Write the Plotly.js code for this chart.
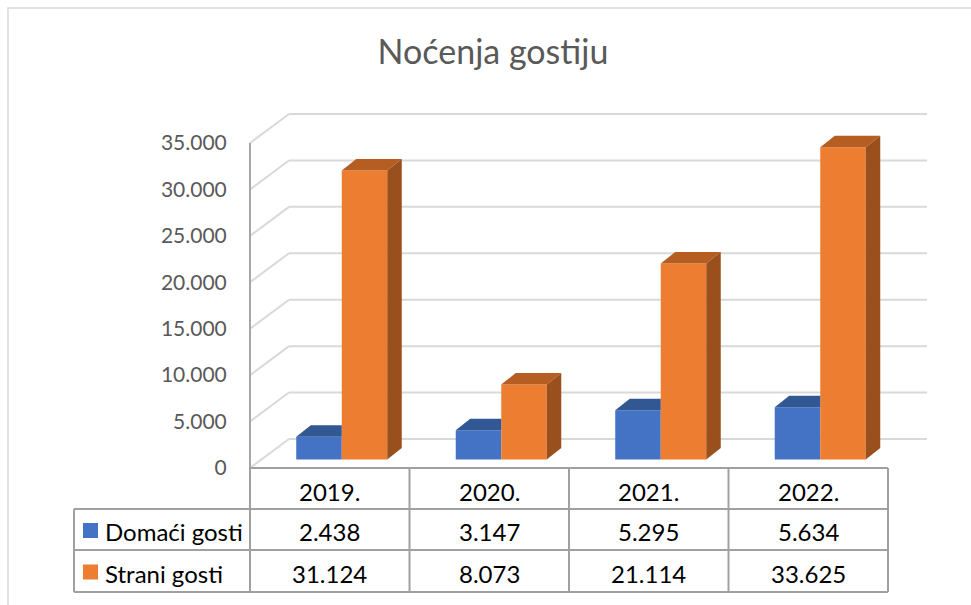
<!DOCTYPE html>
<html>
<head>
<meta charset="utf-8">
<script src="https://cdn.plot.ly/plotly-3.0.1.min.js"></script>
<style>html,body{margin:0;padding:0;background:#fff;}#chart{width:971px;height:605px;}</style>
</head>
<body>
<div id="chart"></div>
<script>
// ---- data ----
const categories = ['2019.', '2020.', '2021.', '2022.'];
const seriesNames = ['Domaći gosti', 'Strani gosti'];
const domaci = [2438, 3147, 5295, 5634];
const strani = [31124, 8073, 21114, 33625];
const tickValues = [0, 5000, 10000, 15000, 20000, 25000, 30000, 35000];
const chartTitle = 'Noćenja gostiju';

// ---- styling / geometry ----
const W = 971, H = 605;
const FX0 = 250, CAT_W = 159.5;      // front-left corner x, category width (px)
const FY0 = 468, PXU = 325 / 35000;  // front zero line y, px per unit
const WALL_DX = 39, WALL_DY = 29;    // depth of back wall (px)
const BAR_SX = 12, BAR_SY = 8.5;     // bar plane offset from front (px)
const BAR_W = 45.5;                  // bar width (px)
const BAR_DX = 14.5, BAR_DY = 11.5;  // bar depth (px)
const FONT = 'Lato, "Open Sans", sans-serif';
const colors = {
  blue: '#4472C4', blueTop: '#325894',
  orange: '#ED7D31', orangeTop: '#B65E22', orangeSide: '#9A501D'
};
const ux = p => p / CAT_W;
const uy = p => p / PXU;
const pxX = p => p / W;
const pxY = p => 1 - p / H;
const fmt = v => String(v).replace(/\B(?=(\d{3})+(?!\d))/g, '.');

const idx = categories.map((c, i) => i);
const sx = ux(BAR_SX), sy = uy(BAR_SY), bw = ux(BAR_W), ddx = ux(BAR_DX), ddy = uy(BAR_DY);

const traces = [];
traces.push({type: 'bar', name: seriesNames[0], x: idx, y: domaci, base: domaci.map(() => sy),
  width: bw, offset: sx - bw, marker: {color: colors.blue, line: {width: 0}}, hoverinfo: 'skip'});
traces.push({type: 'bar', name: seriesNames[1], x: idx, y: strani, base: strani.map(() => sy),
  width: bw, offset: sx, marker: {color: colors.orange, line: {width: 0}}, hoverinfo: 'skip'});

idx.forEach(i => {
  // blue top face (right part hidden behind the taller orange bar)
  const bl = i + sx - bw, br = i + sx, bt = domaci[i] + sy;
  traces.push({type: 'scatter', mode: 'none', fill: 'toself', fillcolor: colors.blueTop,
    x: [bl, br, br, bl + ddx, bl], y: [bt, bt, bt + ddy, bt + ddy, bt], hoverinfo: 'skip'});
  // orange top face
  const ol = i + sx, or = i + sx + bw, ot = strani[i] + sy;
  traces.push({type: 'scatter', mode: 'none', fill: 'toself', fillcolor: colors.orangeTop,
    x: [ol, or, or + ddx, ol + ddx, ol], y: [ot, ot, ot + ddy, ot + ddy, ot], hoverinfo: 'skip'});
  // orange side face
  traces.push({type: 'scatter', mode: 'none', fill: 'toself', fillcolor: colors.orangeSide,
    x: [or, or + ddx, or + ddx, or, or], y: [sy, sy + ddy, ot + ddy, ot, sy], hoverinfo: 'skip'});
});

const shapes = [];
const gridColor = '#d9d9d9', axisColor = '#a6a6a6', tableColor = '#a0a0a0';
const xL = -0.5, xR = categories.length - 0.5;
tickValues.forEach(v => {
  shapes.push({type: 'line', xref: 'x', yref: 'y', layer: 'below',
    x0: xL + ux(WALL_DX), x1: xR + ux(WALL_DX), y0: v + uy(WALL_DY), y1: v + uy(WALL_DY),
    line: {color: gridColor, width: 2}});
  shapes.push({type: 'line', xref: 'x', yref: 'y', layer: 'below',
    x0: xL, x1: xL + ux(WALL_DX), y0: v, y1: v + uy(WALL_DY),
    line: {color: gridColor, width: 2}});
});
// front y-axis line
shapes.push({type: 'line', xref: 'x', yref: 'y', x0: xL, x1: xL, y0: 0, y1: tickValues[tickValues.length - 1],
  line: {color: axisColor, width: 2}});

// data table
const T_LEFT = 74, ROWS = [468, 509, 550, 592];
const colX = i => FX0 + i * CAT_W;
const tRight = colX(categories.length);
shapes.push({type: 'line', xref: 'paper', yref: 'paper', x0: pxX(FX0), x1: pxX(tRight), y0: pxY(ROWS[0]), y1: pxY(ROWS[0]), line: {color: tableColor, width: 2}});
for (let r = 1; r < ROWS.length; r++) {
  shapes.push({type: 'line', xref: 'paper', yref: 'paper', x0: pxX(T_LEFT), x1: pxX(tRight), y0: pxY(ROWS[r]), y1: pxY(ROWS[r]), line: {color: tableColor, width: 2}});
}
for (let c = 0; c <= categories.length; c++) {
  shapes.push({type: 'line', xref: 'paper', yref: 'paper', x0: pxX(colX(c)), x1: pxX(colX(c)), y0: pxY(ROWS[0]), y1: pxY(ROWS[3]), line: {color: tableColor, width: 2}});
}
shapes.push({type: 'line', xref: 'paper', yref: 'paper', x0: pxX(T_LEFT), x1: pxX(T_LEFT), y0: pxY(ROWS[1]), y1: pxY(ROWS[3]), line: {color: tableColor, width: 2}});
// legend swatches
[colors.blue, colors.orange].forEach((col, r) => {
  const cy = (ROWS[r + 1] + ROWS[r + 2]) / 2 + 1;
  shapes.push({type: 'rect', xref: 'paper', yref: 'paper', x0: pxX(83), x1: pxX(98), y0: pxY(cy - 7.5), y1: pxY(cy + 7.5),
    fillcolor: col, line: {width: 0}});
});
// outer chart border
shapes.push({type: 'path', xref: 'paper', yref: 'paper', path: `M ${pxX(8)},${pxY(H)} L ${pxX(8)},${pxY(8)} L ${pxX(W)},${pxY(8)}`,
  line: {color: '#d9d9d9', width: 1.5}});

const annotations = [];
const tFont = {family: FONT, size: 24, color: '#000000'};
categories.forEach((c, i) => {
  annotations.push({xref: 'paper', yref: 'paper', x: pxX(colX(i) + CAT_W / 2), y: pxY((ROWS[0] + ROWS[1]) / 2 + 3),
    text: c, showarrow: false, xanchor: 'center', yanchor: 'middle', font: tFont});
  annotations.push({xref: 'paper', yref: 'paper', x: pxX(colX(i) + CAT_W / 2), y: pxY((ROWS[1] + ROWS[2]) / 2 + 2),
    text: fmt(domaci[i]), showarrow: false, xanchor: 'center', yanchor: 'middle', font: tFont});
  annotations.push({xref: 'paper', yref: 'paper', x: pxX(colX(i) + CAT_W / 2), y: pxY((ROWS[2] + ROWS[3]) / 2 + 2),
    text: fmt(strani[i]), showarrow: false, xanchor: 'center', yanchor: 'middle', font: tFont});
});
seriesNames.forEach((n, r) => {
  annotations.push({xref: 'paper', yref: 'paper', x: pxX(103), y: pxY((ROWS[r + 1] + ROWS[r + 2]) / 2 + 2),
    text: n, showarrow: false, xanchor: 'left', yanchor: 'middle', font: tFont});
});

const layout = {
  width: W, height: H,
  margin: {l: 0, r: 0, t: 0, b: 0, pad: 0},
  paper_bgcolor: '#ffffff', plot_bgcolor: 'rgba(0,0,0,0)',
  showlegend: false,
  barmode: 'overlay',
  title: {text: chartTitle, x: pxX(493), xanchor: 'center', y: pxY(52), yanchor: 'middle',
    font: {family: FONT, size: 34, color: '#595959'}},
  xaxis: {range: [-0.5 - ux(FX0), -0.5 + ux(W - FX0)], visible: false, fixedrange: true},
  yaxis: {range: [-uy(H - FY0), uy(FY0)], anchor: 'free', position: pxX(FX0),
    tickvals: tickValues, ticktext: tickValues.map(fmt),
    showgrid: false, zeroline: false, showline: false,
    ticks: 'outside', ticklen: 19, tickcolor: 'rgba(0,0,0,0)',
    tickfont: {family: FONT, size: 21, color: '#595959'}, fixedrange: true},
  shapes: shapes,
  annotations: annotations
};

Plotly.newPlot('chart', traces, layout, {displayModeBar: false, staticPlot: true});
</script>
</body>
</html>
